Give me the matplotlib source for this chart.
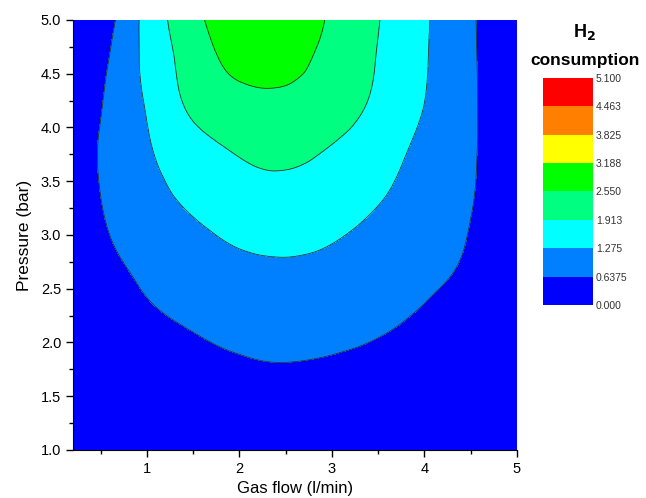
import numpy as np
import matplotlib
matplotlib.use("Agg")
import matplotlib.pyplot as plt
import matplotlib.tri as mtri
from matplotlib.colors import ListedColormap, BoundaryNorm
from matplotlib.cm import ScalarMappable

plt.rcParams['font.family'] = ['Liberation Sans', 'DejaVu Sans']

# grid
gas_flow = [0.2, 0.6, 1.0, 1.4, 1.8, 2.2, 2.6, 3.0, 3.4, 3.8, 4.2, 4.6, 5.0]
pressure = [1.0, 1.4, 1.8, 2.2, 2.6, 3.0, 3.4, 3.8, 4.2, 4.6, 5.0]
# H2 consumption, one row per pressure value (bottom to top)
row_10 = [-0.6, -0.3, -0.08, 0.06, 0.13, 0.16, 0.17, 0.14, 0.09, 0.0, -0.12, -0.35, -0.8]
row_14 = [-0.4, -0.05, 0.16, 0.28, 0.35, 0.39, 0.40, 0.37, 0.32, 0.24, 0.10, -0.1, -0.5]
row_18 = [-0.25, 0.15, 0.37, 0.485, 0.553, 0.615, 0.625, 0.588, 0.535, 0.47, 0.36, 0.15, -0.25]
row_22 = [-0.05, 0.30, 0.54, 0.665, 0.79, 0.875, 0.88, 0.838, 0.741, 0.633, 0.51, 0.30, -0.05]
row_26 = [0.2, 0.49, 0.71, 0.89, 1.05, 1.135, 1.14, 1.086, 0.947, 0.80, 0.665, 0.44, 0.06]
row_30 = [0.3, 0.64, 0.866, 1.084, 1.30, 1.41, 1.423, 1.334, 1.153, 0.958, 0.79, 0.53, 0.12]
row_34 = [0.33, 0.735, 1.06, 1.385, 1.62, 1.735, 1.737, 1.63, 1.42, 1.14, 0.877, 0.59, 0.13]
row_38 = [0.3, 0.79, 1.21, 1.62, 1.88, 2.05, 2.05, 1.88, 1.64, 1.30, 0.965, 0.61, 0.13]
row_42 = [0.18, 0.75, 1.32, 1.913, 2.26, 2.40, 2.37, 2.20, 1.88, 1.48, 1.055, 0.61, 0.11]
row_46 = [-0.1, 0.675, 1.42, 2.06, 2.55, 2.73, 2.66, 2.34, 1.98, 1.55, 1.09, 0.60, 0.09]
row_50 = [-0.4, 0.49, 1.47, 2.21, 2.77, 3.04, 2.93, 2.45, 2.04, 1.59, 1.10, 0.585, 0.06]

levels = [0.000, 0.6375, 1.275, 1.913, 2.550, 3.188, 3.825, 4.463, 5.100]
level_labels = ['0.000', '0.6375', '1.275', '1.913', '2.550', '3.188', '3.825', '4.463', '5.100']
colors = ['#0000FF', '#0080FF', '#00FFFF', '#00FF80', '#00FF00', '#FFFF00', '#FF8000', '#FF0000']

Z = np.array([row_10, row_14, row_18, row_22, row_26, row_30, row_34,
              row_38, row_42, row_46, row_50])
X, Y = np.meshgrid(gas_flow, pressure)

tri = mtri.Triangulation(X.ravel(), Y.ravel())
refiner = mtri.UniformTriRefiner(tri)
tri_f, z_f = refiner.refine_field(Z.ravel(), subdiv=4)

fig = plt.figure(figsize=(6.46, 4.98), dpi=100)
ax = fig.add_axes([0.113, 0.0964, 0.687, 0.8635])

fill_levels = [min(z_f.min(), 0) - 1] + levels[1:]
ax.tricontourf(tri_f, z_f, levels=fill_levels, colors=colors)
ax.tricontour(tri_f, z_f, levels=levels[1:-1], colors='#303030', linewidths=0.6)

ax.set_xlim(0.2, 5.0)
ax.set_ylim(1.0, 5.0)
ax.set_xticks([1, 2, 3, 4, 5])
ax.set_xticks(np.arange(0.5, 5.01, 0.5), minor=True)
ax.set_yticks(np.arange(1.0, 5.01, 0.5))
ax.set_yticks(np.arange(1.0, 5.01, 0.25), minor=True)
ax.yaxis.set_major_formatter(matplotlib.ticker.FormatStrFormatter('%.1f'))
ax.tick_params(which='major', length=5, width=1, labelsize=10.5, colors='black')
ax.tick_params(which='minor', length=3, width=1)
for s in ['top', 'right']:
    ax.spines[s].set_visible(False)
ax.set_xlabel('Gas flow (l/min)', fontsize=12, labelpad=4)
ax.set_ylabel('Pressure (bar)', fontsize=12.5, labelpad=6)

# colorbar
cax = fig.add_axes([0.8406, 0.3876, 0.0774, 0.456])
sm = ScalarMappable(norm=BoundaryNorm(levels, len(colors)), cmap=ListedColormap(colors))
cb = fig.colorbar(sm, cax=cax, ticks=levels, spacing='uniform')
cb.ax.set_yticklabels(level_labels)
cb.ax.tick_params(length=0, labelsize=7.5, pad=2, labelcolor='#333333')
cb.outline.set_visible(False)
fig.text(0.905, 0.935, 'H$_\\mathbf{2}$', fontsize=13, fontweight='bold', ha='center', va='center')
fig.text(0.905, 0.878, 'consumption', fontsize=12.5, fontweight='bold', ha='center', va='center')

fig.savefig('out.png', dpi=100)
